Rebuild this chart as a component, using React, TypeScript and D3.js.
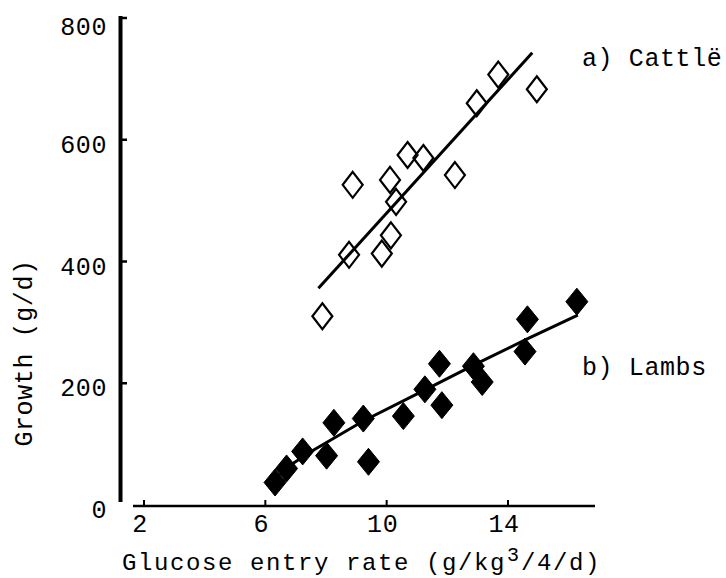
import React from "react";
import * as d3 from "d3";

const cattleX = [8.88, 10.11, 10.69, 11.21, 12.25, 10.31, 12.97, 13.68, 14.95, 8.76, 10.14, 9.84, 7.88];
const cattleY = [526, 534, 575, 570, 542, 498, 660, 707, 683, 411, 443, 413, 310];
const lambsX = [6.32, 6.7, 7.23, 8.02, 8.26, 9.23, 9.4, 10.55, 11.26, 11.74, 11.82, 12.86, 13.15, 14.56, 14.64, 16.27];
const lambsY = [37, 60, 88, 81, 135, 142, 71, 146, 190, 232, 164, 228, 202, 252, 305, 334];
const cattleFitX = [7.75, 14.8];
const cattleFitY = [356, 743];
const lambsFitX = [6.5, 7.58, 9.23, 11.3, 13.0, 14.6, 16.3];
const lambsFitY = [55, 90, 138, 190, 233, 272, 312];
const xTicks = [2, 6, 10, 14];
const yTicks = [0, 200, 400, 600, 800];
const labels = ["a) Cattlë", "b) Lambs"];
const xTitleParts = ["Glucose entry rate (g/kg", "3", "/4/d)"];
const yTitle = "Growth (g/d)";

const FONT = "'Liberation Mono', 'DejaVu Sans Mono', monospace";

export default function App() {
  const W = 726, H = 578;
  const x = d3.scaleLinear().domain([2, 14]).range([144, 508]);
  const y = d3.scaleLinear().domain([0, 800]).range([505, 18]);
  const line = d3.line<[number, number]>().x(d => x(d[0])).y(d => y(d[1]));
  const diamond = (cx: number, cy: number, hw: number, hh: number) =>
    `M${cx},${cy - hh}L${cx + hw},${cy}L${cx},${cy + hh}L${cx - hw},${cy}Z`;

  const cattleFit = cattleFitX.map((v, i) => [v, cattleFitY[i]] as [number, number]);
  const lambsFit = lambsFitX.map((v, i) => [v, lambsFitY[i]] as [number, number]);

  const adv = 24 * 0.6 + 1.6;
  const x0 = 122;
  const x1 = x0 + xTitleParts[0].length * adv + 1;
  const x2 = x1 + 14;

  return (
    <svg width={W} height={H} style={{ position: "absolute", left: 0, top: 0, background: "#fff" }} fontFamily={FONT}>
      <rect width={W} height={H} fill="#fff" />
      {/* y axis */}
      <line x1={120.5} x2={120.5} y1={16} y2={502} stroke="#000" strokeWidth={4} />
      {yTicks.filter(t => t > 0).map(t => (
        <line key={t} x1={120} x2={127} y1={y(t)} y2={y(t)} stroke="#000" strokeWidth={2.5} />
      ))}
      {yTicks.map(t => (
        <text key={t} x={107} y={y(t) + (t === 800 ? 9 : 5) + 8} textAnchor="end" fontSize={25} letterSpacing={0.6} fill="#000">
          {t}
        </text>
      ))}
      {/* x axis */}
      <line x1={133} x2={595} y1={506} y2={506} stroke="#000" strokeWidth={2.5} />
      {xTicks.map(t => (
        <line key={t} x1={x(t)} x2={x(t)} y1={506} y2={500} stroke="#000" strokeWidth={2} />
      ))}
      {xTicks.map(t => (
        <text key={t} x={x(t) - 4} y={532} textAnchor="middle" fontSize={25} letterSpacing={0.6} fill="#000">
          {t}
        </text>
      ))}
      <text x={x0} y={570} fontSize={24} letterSpacing={1.6} fill="#000">{xTitleParts[0]}</text>
      <text x={x1} y={561} fontSize={20} fill="#000">{xTitleParts[1]}</text>
      <text x={x2} y={570} fontSize={24} letterSpacing={1.6} fill="#000">{xTitleParts[2]}</text>
      <text transform="translate(32,353) rotate(-90)" textAnchor="middle" fontSize={25} letterSpacing={0.6} fill="#000">
        {yTitle}
      </text>
      {/* fit lines */}
      <path d={line(cattleFit) || ""} fill="none" stroke="#000" strokeWidth={3} />
      <path d={line(lambsFit) || ""} fill="none" stroke="#000" strokeWidth={3} />
      {/* points */}
      {cattleX.map((v, i) => (
        <path key={"c" + i} d={diamond(x(v), y(cattleY[i]), 10, 13)} fill="#fff" fillOpacity={0} stroke="#000" strokeWidth={2.2} />
      ))}
      {lambsX.map((v, i) => (
        <path key={"l" + i} d={diamond(x(v), y(lambsY[i]), 11, 13.5)} fill="#000" stroke="#000" strokeWidth={1} />
      ))}
      <text x={582} y={66} fontSize={25} letterSpacing={0.6} fill="#000">{labels[0]}</text>
      <text x={582} y={375} fontSize={25} letterSpacing={0.6} fill="#000">{labels[1]}</text>
    </svg>
  );
}
